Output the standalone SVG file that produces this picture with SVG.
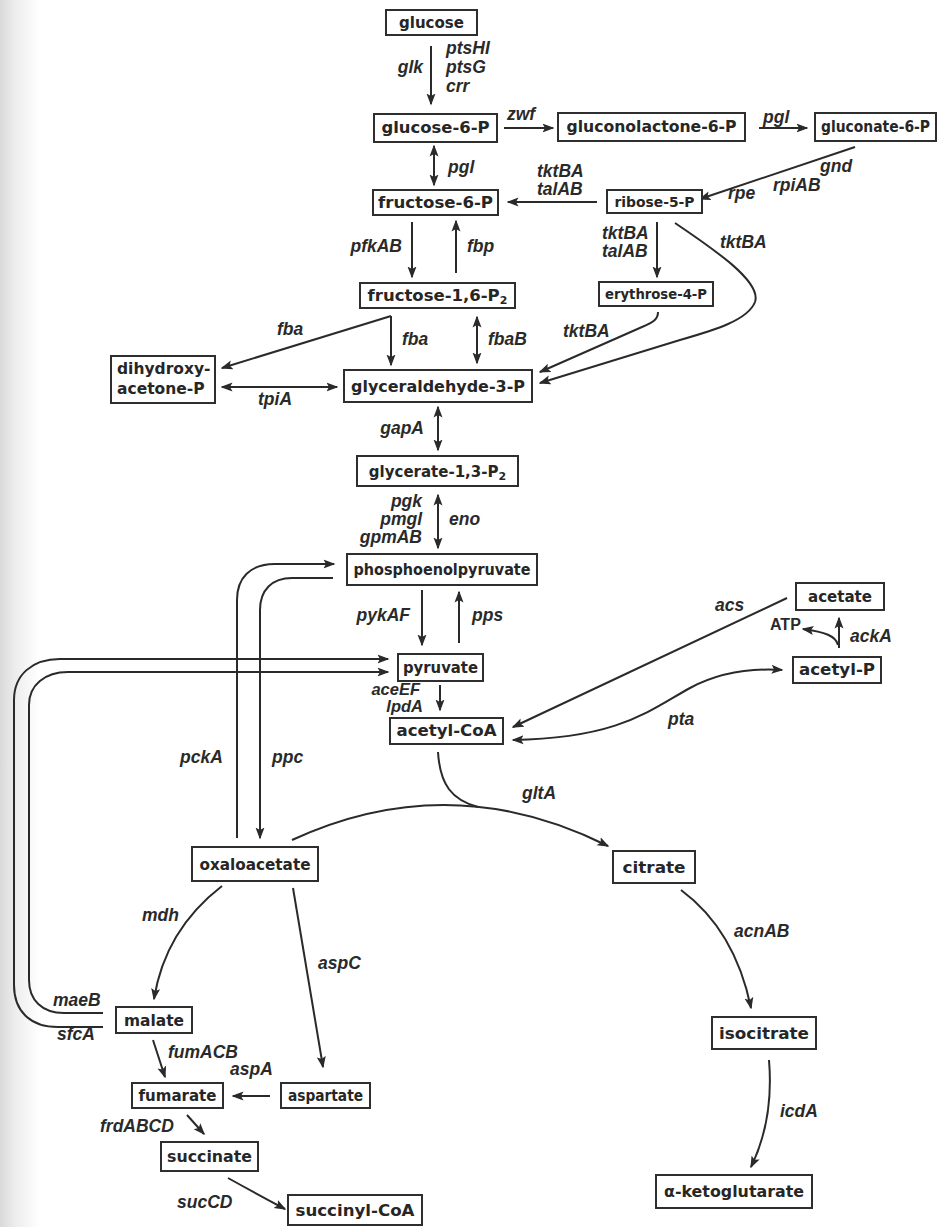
<svg xmlns="http://www.w3.org/2000/svg" width="952" height="1227" viewBox="0 0 952 1227">
<defs>
<linearGradient id="edge" x1="0" y1="0" x2="1" y2="0">
<stop offset="0" stop-color="#d9d9d9"/>
<stop offset="0.4" stop-color="#eeeeee"/>
<stop offset="1" stop-color="#ffffff"/>
</linearGradient>
<marker id="ah" viewBox="0 0 12 10" refX="10.5" refY="5" markerWidth="12" markerHeight="10" markerUnits="userSpaceOnUse" orient="auto-start-reverse">
<path d="M0,0.5 L12,5 L0,9.5 L2.5,5 z" fill="#2a2a2a"/>
</marker>
<style>
.box{fill:#fff;stroke:#2e2e2e;stroke-width:2}
.nt{font-family:"DejaVu Sans",Verdana,sans-serif;font-weight:bold;font-size:16px;fill:#262626;text-anchor:middle}
.sm{font-size:14.5px}
.lb{font-family:"Liberation Sans",Arial,sans-serif;font-weight:bold;font-style:italic;font-size:17.5px;fill:#2a2a2a}
.st{font-size:16.5px}
.e{text-anchor:end}
.c{fill:none;stroke:#2a2a2a;stroke-width:2}
.a{marker-end:url(#ah)}
.d{marker-start:url(#ah);marker-end:url(#ah)}
.atp{font-family:"Liberation Sans",Arial,sans-serif;font-weight:bold;font-size:16px;fill:#2a2a2a}
</style>
</defs>
<rect width="952" height="1227" fill="#fff"/>
<rect width="40" height="1227" fill="url(#edge)"/>

<g id="connectors">
<path class="c a" d="M431,46 L431,104"/>
<path class="c a" d="M504,128 L553,128"/>
<path class="c a" d="M759,128 L807,128"/>
<path class="c a" d="M855,147 L700,199"/>
<path class="c a" d="M597,202 L508,202"/>
<path class="c d" d="M434,146 L434,185"/>
<path class="c a" d="M412,222 L412,277"/>
<path class="c a" d="M456,273 L456,221"/>
<path class="c a" d="M657,222 L657,277"/>
<path class="c a" d="M675,223 C715,250 762,282 755,302 C748,320 715,330 680,340 L540,383"/>
<path class="c a" d="M658,312 C658,319 654,322 642,327 L540,372"/>
<path class="c a" d="M391,316 L391,365"/>
<path class="c a" d="M391,316 L222,368"/>
<path class="c d" d="M477,317 L477,363"/>
<path class="c d" d="M222,387 L337,387"/>
<path class="c d" d="M438,407 L438,450"/>
<path class="c d" d="M438,495 L438,548"/>
<path class="c a" d="M422,590 L422,645"/>
<path class="c a" d="M459,643 L459,592"/>
<path class="c a" d="M440,685 L440,710"/>
<path class="c a" d="M237,838 L237,600 C237,578 250,564 275,564 L334,564"/>
<path class="c a" d="M333,578 L292,578 C272,578 260,590 260,610 L260,838"/>
<path class="c a" d="M103,1027 L58,1027 C30,1027 14,1011 14,985 L14,700 C14,675 32,659 60,659 L388,659"/>
<path class="c a" d="M103,1013 L64,1013 C42,1013 29,1000 29,980 L29,705 C29,685 45,672 68,672 L388,672"/>
<path class="c a" d="M292,840 Q450,767 608,846"/>
<path class="c" d="M438,752 C440,785 452,800 478,807"/>
<path class="c a" d="M681,890 Q735,930 751,1008"/>
<path class="c a" d="M769,1060 Q774,1120 751,1167"/>
<path class="c a" d="M222,886 Q165,930 154,999"/>
<path class="c a" d="M293,888 L323,1067"/>
<path class="c a" d="M153,1040 L165,1077"/>
<path class="c a" d="M270,1096 L233,1096"/>
<path class="c a" d="M187,1115 L204,1134"/>
<path class="c a" d="M228,1178 Q255,1193 285,1209"/>
<path class="c a" d="M787,598 L513,727"/>
<path class="c d" d="M513,740 C620,738 650,710 690,688 C720,672 750,668 782,670"/>
<path class="c a" d="M839,648 L839,618"/>
<path class="c a" d="M838,645 C836,636 825,632 803,629"/>
</g>

<g id="labels">
<text class="lb e" x="423" y="73">glk</text>
<text class="lb" x="446" y="54">ptsHI</text>
<text class="lb" x="446" y="73">ptsG</text>
<text class="lb" x="446" y="92">crr</text>
<text class="lb" x="507" y="120">zwf</text>
<text class="lb" x="763" y="123">pgl</text>
<text class="lb" x="448" y="173">pgl</text>
<text class="lb" x="537" y="177">tktBA</text>
<text class="lb" x="537" y="195">talAB</text>
<text class="lb" x="820" y="172">gnd</text>
<text class="lb" x="773" y="191">rpiAB</text>
<text class="lb" x="728" y="199">rpe</text>
<text class="lb" x="602" y="239">tktBA</text>
<text class="lb" x="602" y="257">talAB</text>
<text class="lb" x="720" y="248">tktBA</text>
<text class="lb e" x="402" y="252">pfkAB</text>
<text class="lb" x="467" y="252">fbp</text>
<text class="lb" x="277" y="335">fba</text>
<text class="lb" x="402" y="345">fba</text>
<text class="lb" x="488" y="345">fbaB</text>
<text class="lb" x="563" y="337">tktBA</text>
<text class="lb" x="258" y="405">tpiA</text>
<text class="lb e" x="424" y="434">gapA</text>
<text class="lb e" x="422" y="507">pgk</text>
<text class="lb e" x="422" y="525">pmgl</text>
<text class="lb e" x="422" y="543">gpmAB</text>
<text class="lb" x="449" y="525">eno</text>
<text class="lb e" x="410" y="621">pykAF</text>
<text class="lb" x="472" y="621">pps</text>
<text class="lb st e" x="420" y="695">aceEF</text>
<text class="lb st e" x="423" y="712">lpdA</text>
<text class="lb" x="715" y="611">acs</text>
<text class="atp" x="770" y="630">ATP</text>
<text class="lb" x="850" y="642">ackA</text>
<text class="lb" x="668" y="725">pta</text>
<text class="lb" x="522" y="799">gltA</text>
<text class="lb" x="180" y="763">pckA</text>
<text class="lb" x="272" y="763">ppc</text>
<text class="lb" x="142" y="921">mdh</text>
<text class="lb" x="318" y="969">aspC</text>
<text class="lb" x="53" y="1006">maeB</text>
<text class="lb" x="57" y="1040">sfcA</text>
<text class="lb" x="168" y="1058">fumACB</text>
<text class="lb" x="230" y="1075">aspA</text>
<text class="lb" x="100" y="1132">frdABCD</text>
<text class="lb" x="177" y="1208">sucCD</text>
<text class="lb" x="734" y="937">acnAB</text>
<text class="lb" x="780" y="1117">icdA</text>
</g>

<g id="glucose"><rect class="box" x="386" y="10" width="91" height="25"/><text class="nt" x="431.5" y="28" textLength="65" lengthAdjust="spacingAndGlyphs">glucose</text></g>
<g id="glucose-6-P"><rect class="box" x="374" y="114" width="123" height="28"/><text class="nt" x="435.5" y="133" textLength="108" lengthAdjust="spacingAndGlyphs">glucose-6-P</text></g>
<g id="gluconolactone-6-P"><rect class="box" x="558" y="113" width="187" height="28"/><text class="nt" x="651.5" y="132" textLength="170" lengthAdjust="spacingAndGlyphs">gluconolactone-6-P</text></g>
<g id="gluconate-6-P"><rect class="box" x="815" y="113" width="121" height="28"/><text class="nt" x="875.5" y="132" style="font-size:15.5px" textLength="109" lengthAdjust="spacingAndGlyphs">gluconate-6-P</text></g>
<g id="fructose-6-P"><rect class="box" x="373" y="190" width="125" height="25"/><text class="nt" x="435.5" y="208" textLength="115" lengthAdjust="spacingAndGlyphs">fructose-6-P</text></g>
<g id="ribose-5-P"><rect class="box" x="607" y="190" width="95" height="23"/><text class="nt sm" x="654.5" y="206.5" textLength="80" lengthAdjust="spacingAndGlyphs">ribose-5-P</text></g>
<g id="fructose-1-6-P2"><rect class="box" x="360" y="283" width="155" height="25"/><text class="nt" x="437.5" y="300.5" style="font-size:16.5px">fructose-1,6-P<tspan style="font-size:11px" dy="3">2</tspan></text></g>
<g id="erythrose-4-P"><rect class="box" x="599" y="282" width="114" height="24"/><text class="nt sm" x="656" y="299" textLength="102" lengthAdjust="spacingAndGlyphs">erythrose-4-P</text></g>
<g id="dihydroxyacetone-P"><rect class="box" x="111" y="356" width="104" height="47"/><text class="nt" x="117" y="374" style="text-anchor:start;font-size:15.5px">dihydroxy-</text><text class="nt" x="117" y="394" style="text-anchor:start;font-size:15.5px">acetone-P</text></g>
<g id="glyceraldehyde-3-P"><rect class="box" x="344" y="370" width="188" height="32"/><text class="nt" x="438" y="391.5" textLength="174" lengthAdjust="spacingAndGlyphs">glyceraldehyde-3-P</text></g>
<g id="glycerate-1-3-P2"><rect class="box" x="357" y="456" width="161" height="30"/><text class="nt" x="437.5" y="476.5" style="font-size:15px">glycerate-1,3-P<tspan style="font-size:11px" dy="3">2</tspan></text></g>
<g id="phosphoenolpyruvate"><rect class="box" x="347" y="554" width="190" height="31"/><text class="nt" x="442" y="575" textLength="177" lengthAdjust="spacingAndGlyphs">phosphoenolpyruvate</text></g>
<g id="pyruvate"><rect class="box" x="398" y="654" width="85" height="27"/><text class="nt" x="440.5" y="672.5" textLength="75" lengthAdjust="spacingAndGlyphs">pyruvate</text></g>
<g id="acetyl-CoA"><rect class="box" x="390" y="718" width="113" height="26"/><text class="nt" x="446.5" y="736" textLength="100" lengthAdjust="spacingAndGlyphs">acetyl-CoA</text></g>
<g id="acetate"><rect class="box" x="796" y="583" width="88" height="27"/><text class="nt" x="840" y="601.5" textLength="64" lengthAdjust="spacingAndGlyphs">acetate</text></g>
<g id="acetyl-P"><rect class="box" x="793" y="657" width="88" height="26"/><text class="nt" x="837" y="675" textLength="76" lengthAdjust="spacingAndGlyphs">acetyl-P</text></g>
<g id="oxaloacetate"><rect class="box" x="192" y="847" width="126" height="34"/><text class="nt" x="255" y="869.5" textLength="111" lengthAdjust="spacingAndGlyphs">oxaloacetate</text></g>
<g id="citrate"><rect class="box" x="613" y="851" width="82" height="32"/><text class="nt" x="654" y="872.5" textLength="63" lengthAdjust="spacingAndGlyphs">citrate</text></g>
<g id="isocitrate"><rect class="box" x="712" y="1017" width="104" height="32"/><text class="nt" x="764" y="1038.5" textLength="90" lengthAdjust="spacingAndGlyphs">isocitrate</text></g>
<g id="alpha-ketoglutarate"><rect class="box" x="656" y="1175" width="156" height="33"/><text class="nt" x="734" y="1197" textLength="140" lengthAdjust="spacingAndGlyphs">α-ketoglutarate</text></g>
<g id="malate"><rect class="box" x="116" y="1007" width="76" height="26"/><text class="nt" x="154" y="1025.5" textLength="60" lengthAdjust="spacingAndGlyphs">malate</text></g>
<g id="fumarate"><rect class="box" x="132" y="1083" width="91" height="25"/><text class="nt" x="177.5" y="1101" textLength="78" lengthAdjust="spacingAndGlyphs">fumarate</text></g>
<g id="aspartate"><rect class="box" x="281" y="1083" width="89" height="25"/><text class="nt" x="325.5" y="1101" textLength="75" lengthAdjust="spacingAndGlyphs">aspartate</text></g>
<g id="succinate"><rect class="box" x="161" y="1142" width="97" height="29"/><text class="nt" x="209.5" y="1162" textLength="85" lengthAdjust="spacingAndGlyphs">succinate</text></g>
<g id="succinyl-CoA"><rect class="box" x="288" y="1195" width="134" height="30"/><text class="nt" x="355" y="1215.5" textLength="119" lengthAdjust="spacingAndGlyphs">succinyl-CoA</text></g>
</svg>
